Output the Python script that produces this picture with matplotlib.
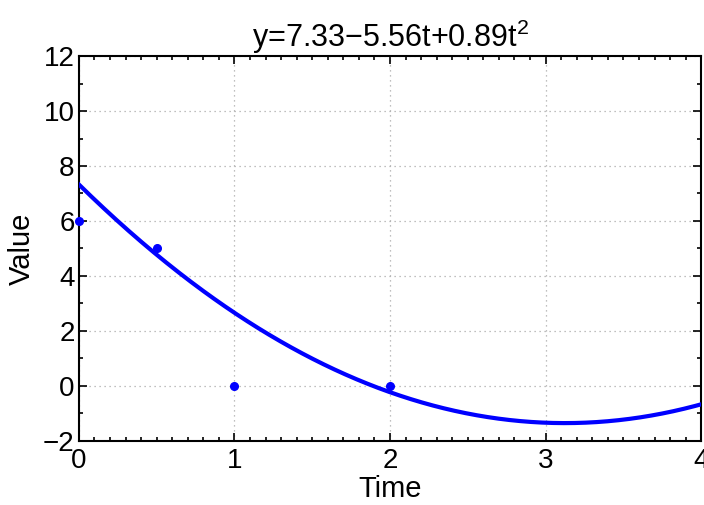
import numpy as np
import matplotlib
matplotlib.use("Agg")
import matplotlib.pyplot as plt
from matplotlib.ticker import MultipleLocator

# Data
t_points = [0, 0.5, 1, 2]
y_points = [6, 5, 0, 0]
coeffs = [0.89, -5.56, 7.33]  # fitted quadratic (highest power first)
x_ticks = [0, 1, 2, 3, 4]
y_ticks = [-2, 0, 2, 4, 6, 8, 10, 12]
title = "y=7.33\u22125.56t+0.89t$^2$"

plt.rcParams['font.family'] = ['Liberation Sans', 'DejaVu Sans']
plt.rcParams['axes.unicode_minus'] = True
plt.rcParams['mathtext.fontset'] = 'custom'
plt.rcParams['mathtext.rm'] = 'Liberation Sans'

fig = plt.figure(figsize=(7.04, 5.05), dpi=100)
ax = fig.add_axes([0.112, 0.127, 0.884, 0.762])

tt = np.linspace(0, 4, 400)
ax.plot(tt, np.polyval(coeffs, tt), color=(0, 0, 1), lw=3, zorder=3)
ax.plot(t_points, y_points, '.', color=(0, 0, 1), markersize=11, clip_on=False, zorder=4)

ax.set_xlim(0, 4)
ax.set_ylim(-2, 12)
ax.set_xticks(x_ticks)
ax.set_yticks(y_ticks)
ax.set_xticklabels([str(v) for v in x_ticks])
ax.set_yticklabels([str(v).replace('-', '\u2212') for v in y_ticks])
ax.xaxis.set_minor_locator(MultipleLocator(0.1))
ax.yaxis.set_minor_locator(MultipleLocator(1))
ax.tick_params(which='both', direction='in', top=True, right=True, labelsize=20, width=1.2)
ax.tick_params(axis='x', which='major', pad=5)
ax.tick_params(axis='y', which='major', pad=3)
ax.tick_params(which='major', length=6)
ax.tick_params(which='minor', length=3)
ax.grid(True, which='major', linestyle=(0, (1, 3)), color='#aaaaaa', lw=0.9)
for s in ax.spines.values():
    s.set_linewidth(1.5)
    s.set_color('black')

ax.set_xlabel('Time', fontsize=21, labelpad=1)
ax.set_ylabel('Value', fontsize=21, labelpad=5)
ax.set_title(title, fontsize=22, pad=2)

fig.savefig('out.png', dpi=100)
